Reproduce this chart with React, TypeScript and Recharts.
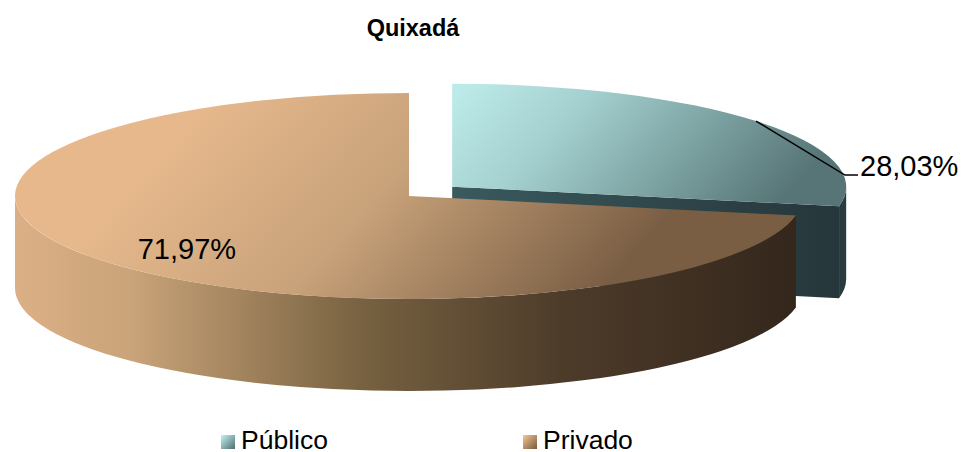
import { Legend, Pie, PieChart } from "recharts"

const categories = ["Público", "Privado"]
const shares = [28.03, 71.97]

const data = categories.map((name, i) => ({ name, value: shares[i] }))

// the pie is drawn flat by recharts' angles, then squashed into an ellipse here
const SQUASH = 0.2614
const DEPTH = 92
const EXPLODE: Record<string, number> = { Público: 56, Privado: 0 }

const toRad = (a: number) => (a * Math.PI) / 180
const explodedCenter = (cx: number, cy: number, mid: number, name: string) => {
  const off = EXPLODE[name] || 0
  return {
    x: cx + off * Math.cos(toRad(mid)),
    y: cy - off * SQUASH * Math.sin(toRad(mid)),
  }
}

const Slice3D = (props: any) => {
  const { cx, cy, outerRadius: rx, startAngle, endAngle, name, payload } = props
  const label = name ?? payload?.name
  const mid = (startAngle + endAngle) / 2
  const c = explodedCenter(cx, cy, mid, label)
  const ry = rx * SQUASH
  const pt = (a: number, dy = 0) => [c.x + rx * Math.cos(toRad(a)), c.y - ry * Math.sin(toRad(a)) + dy]
  const id = label === "Público" ? "pub" : "pri"

  const [sx, sy] = pt(startAngle)
  const [ex, ey] = pt(endAngle)
  const large = Math.abs(startAngle - endAngle) > 180 ? 1 : 0
  const top = `M${c.x},${c.y}L${sx},${sy}A${rx},${ry} 0 ${large} 1 ${ex},${ey}Z`

  // only the front half of the rim can be seen
  const a1 = Math.min(startAngle, 0)
  const a2 = Math.max(endAngle, -180)
  const [x1, y1] = pt(a1)
  const [x2, y2] = pt(a2)
  const rim = `M${x1},${y1}A${rx},${ry} 0 0 1 ${x2},${y2}L${x2},${y2 + DEPTH}A${rx},${ry} 0 0 0 ${x1},${y1 + DEPTH}Z`
  const cut = `M${c.x},${c.y}L${ex},${ey}L${ex},${ey + DEPTH}L${c.x},${c.y + DEPTH}Z`

  return (
    <g>
      <path d={cut} fill={`url(#${id}Cut)`} />
      {a1 > a2 && <path d={rim} fill={`url(#${id}Rim)`} />}
      <path d={top} fill={`url(#${id}Top)`} />
    </g>
  )
}

const renderLabel = (props: any) => {
  const { cx, cy, outerRadius: rx, midAngle, name, value } = props
  const text = `${value.toFixed(2).replace(".", ",")}%`
  const cos = Math.cos(toRad(midAngle))
  const sin = Math.sin(toRad(midAngle))
  if (name === "Público") {
    const c = explodedCenter(cx, cy, midAngle, name)
    const x0 = c.x + rx * cos
    const y0 = c.y - rx * SQUASH * sin
    return (
      <g>
        <polyline
          points={`${x0},${y0} ${x0 + 89},${y0 + 54} ${x0 + 102},${y0 + 54}`}
          fill="none"
          stroke="#000"
          strokeWidth={1.5}
        />
        <text x={x0 + 104} y={y0 + 54} dy={1} fontSize={29} fill="#000" fontFamily="Liberation Sans">
          {text}
        </text>
      </g>
    )
  }
  return (
    <text
      x={cx + rx * 0.731 * cos}
      y={cy - rx * SQUASH * 0.731 * sin + 15}
      textAnchor="middle"
      fontSize={29}
      fill="#000"
      fontFamily="Liberation Sans"
    >
      {text}
    </text>
  )
}

const LegendRow = ({ payload }: any) => (
  <div style={{ display: "flex", fontFamily: "Liberation Sans", fontSize: 26.5, lineHeight: "21px", color: "#000" }}>
    {(payload || []).map((p: any) => (
      <div key={p.value} style={{ display: "flex", alignItems: "center", width: 302 }}>
        <span
          style={{
            width: 14,
            height: 14,
            marginRight: 6,
            marginTop: 3,
            background:
              p.value === "Público"
                ? "linear-gradient(135deg, #c4f4f2, #4f6c6e)"
                : "linear-gradient(135deg, #f6c796, #77593c)",
          }}
        />
        {p.value}
      </div>
    ))}
  </div>
)

export default function App() {
  return (
    <div style={{ position: "absolute", left: 0, top: 0, width: 961, height: 452, background: "#fff" }}>
      <PieChart width={961} height={452} margin={{ top: 0, right: 0, bottom: 0, left: 0 }}>
        <defs>
          <linearGradient id="pubTop" gradientUnits="userSpaceOnUse" x1={470} y1={80} x2={700} y2={290}>
            <stop offset="0%" stopColor="#bceae8" />
            <stop offset="30%" stopColor="#a5d2d1" />
            <stop offset="100%" stopColor="#577576" />
          </linearGradient>
          <linearGradient id="pubRim" gradientUnits="userSpaceOnUse" x1={800} y1={0} x2={850} y2={0}>
            <stop offset="0%" stopColor="#26363a" />
            <stop offset="100%" stopColor="#2a3c40" />
          </linearGradient>
          <linearGradient id="pubCut" gradientUnits="userSpaceOnUse" x1={452} y1={0} x2={840} y2={0}>
            <stop offset="0%" stopColor="#3a5a5e" />
            <stop offset="100%" stopColor="#26363a" />
          </linearGradient>
          <linearGradient id="priTop" gradientUnits="userSpaceOnUse" x1={220} y1={90} x2={530} y2={370}>
            <stop offset="0%" stopColor="#e6b88c" />
            <stop offset="45%" stopColor="#c8a27a" />
            <stop offset="100%" stopColor="#7a5e44" />
          </linearGradient>
          <linearGradient id="priRim" gradientUnits="userSpaceOnUse" x1={15} y1={0} x2={800} y2={0}>
            <stop offset="0%" stopColor="#dcb086" />
            <stop offset="15%" stopColor="#c9a379" />
            <stop offset="45%" stopColor="#75603f" />
            <stop offset="70%" stopColor="#4d3b2a" />
            <stop offset="100%" stopColor="#33261b" />
          </linearGradient>
          <linearGradient id="priCut" gradientUnits="userSpaceOnUse" x1={0} y1={0} x2={1} y2={0}>
            <stop offset="0%" stopColor="#33261b" />
          </linearGradient>
        </defs>
        <text
          x={413}
          y={36}
          textAnchor="middle"
          fontSize={23.5}
          fontWeight="bold"
          fontFamily="Liberation Sans"
          fill="#000"
        >
          Quixadá
        </text>
        <Pie
          data={data}
          dataKey="value"
          nameKey="name"
          cx={409}
          cy={196}
          outerRadius={394}
          startAngle={90}
          endAngle={-270}
          stroke="none"
          shape={Slice3D}
          label={renderLabel}
          labelLine={false}
          isAnimationActive={false}
        />
        <Legend
          layout="horizontal"
          content={<LegendRow />}
          itemSorter={null}
          wrapperStyle={{ position: "absolute", left: 221, top: 430, width: 640, bottom: "auto" }}
        />
      </PieChart>
    </div>
  )
}
